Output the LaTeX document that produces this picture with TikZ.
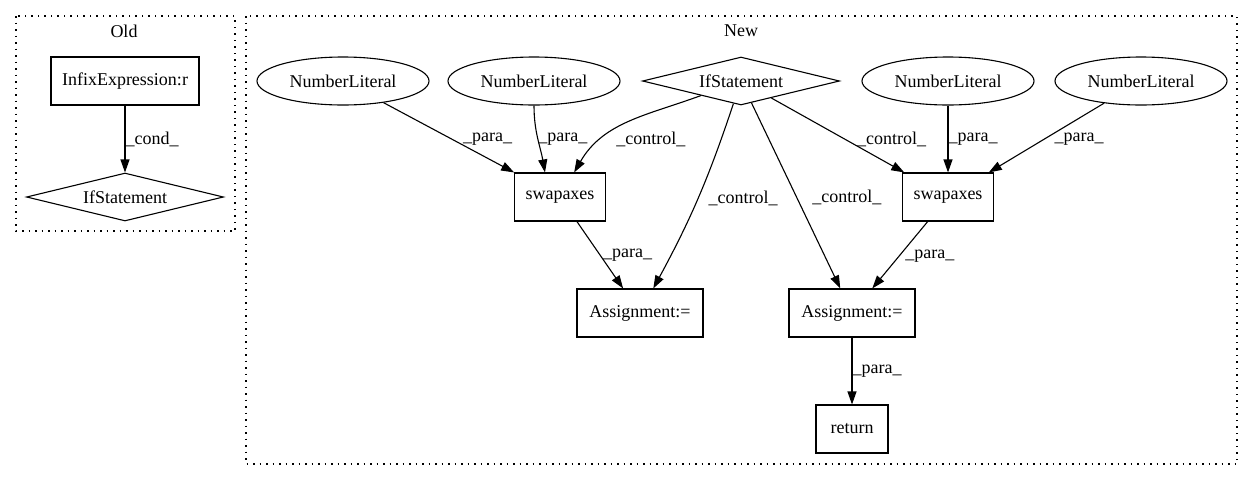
\documentclass[tikz,border=0pt]{standalone}
\usepackage{fontspec}
\setmainfont{Liberation Serif}
\usetikzlibrary{arrows.meta,positioning,shapes.geometric}

\begin{document}
\begin{tikzpicture}[x=1pt, y=-1pt, line width=1.1pt, font=\fontsize{18}{21}\selectfont,
    stmt/.style={rectangle, draw, inner sep=0pt, minimum height=48pt},
    lit/.style={ellipse, draw, inner sep=0pt, minimum width=172pt, minimum height=48pt},
    branch/.style={diamond, draw, aspect=4, inner sep=0pt, minimum width=197pt, minimum height=48pt},
    flow/.style={-{Triangle[length=13pt, width=9pt]}},
    lbl/.style={anchor=west, inner sep=0pt},
    cluster/.style={draw, dash pattern=on 1.5pt off 5pt}]
  \useasboundingbox (0,0) rectangle (1253,480);
  % old version
  \draw[cluster] (16,16) rectangle (235,231);
  \node (oldtitle) at (124,31) {Old};
  \node[stmt, minimum width=148pt] (infix) at (125,81) {InfixExpression:r};
  \node[branch] (ifold) at (125,197) {IfStatement};
  \draw[flow] (infix) -- node[lbl, pos=.5] {\_cond\_} (ifold);
  % new version
  \draw[cluster] (246,16) rectangle (1237,464);
  \node (newtitle) at (741,31) {New};
  \node[lit] (nl1) at (343,81) {NumberLiteral}; \node[lit] (nl2) at (534,81) {NumberLiteral};
  \node[branch] (ifnew) at (741,81) {IfStatement};
  \node[lit] (nl3) at (948,81) {NumberLiteral}; \node[lit] (nl4) at (1141,81) {NumberLiteral};
  \node[stmt, minimum width=91pt] (sw1) at (560,197) {swapaxes};
  \node[stmt, minimum width=91pt] (sw2) at (948,197) {swapaxes};
  \node[stmt, minimum width=126pt] (as1) at (640,313) {Assignment:=};
  \node[stmt, minimum width=126pt] (as2) at (852,313) {Assignment:=};
  \node[stmt, minimum width=72pt] (ret) at (852,429) {return};
  \draw[flow] (nl1) -- node[lbl, pos=.52, xshift=11pt] {\_para\_} (sw1);
  \draw[flow] (nl2) to[out=-90, in=100] node[lbl, pos=.5] {\_para\_} ([xshift=-15pt]sw1.north);
  \draw[flow] (ifnew) to[out=200, in=60] node[lbl, pos=.72, xshift=14pt] {\_control\_} (sw1);
  \draw[flow] (ifnew) to[bend left=5] node[lbl, pos=.5, xshift=10pt] {\_control\_} (as1);
  \draw[flow] (sw1) -- node[lbl, pos=.51, xshift=2pt] {\_para\_} (as1);
  \draw[flow] (ifnew) -- node[lbl, pos=.51, xshift=15pt] {\_control\_} (as2);
  \draw[flow] (ifnew) -- node[lbl, pos=.55, xshift=12pt] {\_control\_} (sw2);
  \draw[flow] (nl3) -- node[lbl, pos=.5] {\_para\_} (sw2);
  \draw[flow] (nl4) -- node[lbl, pos=.52, xshift=10pt] {\_para\_} (sw2);
  \draw[flow] (sw2) -- node[lbl, pos=.52, xshift=6pt] {\_para\_} (as2);
  \draw[flow] (as2) -- node[lbl, pos=.5] {\_para\_} (ret);
\end{tikzpicture}
\end{document}
